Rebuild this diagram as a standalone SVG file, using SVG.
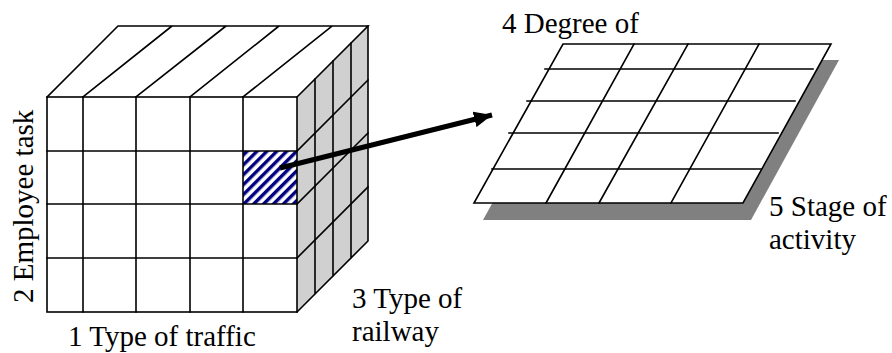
<svg xmlns="http://www.w3.org/2000/svg" width="892" height="353" viewBox="0 0 892 353">
<style>
.ln{stroke:#000;stroke-width:1.6;fill:none;stroke-linecap:square}
.lbl{font-family:"Liberation Serif","Times New Roman",Times,Tinos,"DejaVu Serif","Noto Serif",serif;font-size:29px;fill:#000}
</style>
<defs>
<pattern id="hatch" patternUnits="userSpaceOnUse" width="7" height="7" patternTransform="rotate(45)">
<rect x="0" y="0" width="7" height="7" fill="#fff"/>
<rect x="0" y="0" width="3.4" height="7" fill="#000080"/>
</pattern>
<marker id="ah" markerUnits="userSpaceOnUse" markerWidth="20" markerHeight="16" refX="18" refY="8" orient="auto">
<path d="M0,0 L18,8 L0,16 Z" fill="#000"/>
</marker>
</defs>
<rect width="892" height="353" fill="#fff"/>

<g id="cube">
<polygon points="297,97 368,26 368,241 297,312" fill="#d0d0d0"/>
<rect x="47" y="97" width="250" height="215" fill="#fff"/>
<polygon points="47,97 118,26 368,26 297,97" fill="#fff"/>
<rect x="243" y="151" width="54" height="53" fill="url(#hatch)"/>
<g class="ln">
<rect x="47" y="97" width="250" height="215"/>
<path d="M83,97V312M136,97V312M190,97V312M243,97V312"/>
<path d="M47,151H297M47,204H297M47,258H297"/>
<path d="M47,97L118,26H368L297,97M83,97L172,26M136,97L226,26M190,97L279,26M243,97L332,26"/>
<path d="M368,26V241L297,312M315,79V294M333,61V276M351,43V258"/>
<path d="M297,151L368,80M297,204L368,133M297,258L368,187"/>
</g>
</g>

<g id="plane">
<polygon points="571,60 839,60 751,220 483,220" fill="#808080"/>
<polygon points="563,44 831,44 743,203 474,203" fill="#fff"/>
<g class="ln">
<polygon points="563,44 831,44 743,203 474,203"/>
<path d="M634,44L546,203M688,44L599,203M759,44L671,203"/>
<path d="M545,69H813M527,101H795M509,133H778M492,169H761"/>
</g>
</g>

<g id="connectors">
<path d="M280,168L492,115" stroke="#000" stroke-width="5" fill="none" marker-end="url(#ah)"/>
</g>

<g id="labels">
<text class="lbl" x="502" y="33">4 Degree of</text>
<text class="lbl" x="769" y="216">5 Stage of</text>
<text class="lbl" x="769" y="249">activity</text>
<text class="lbl" x="352" y="308">3 Type of</text>
<text class="lbl" x="352" y="341">railway</text>
<text class="lbl" x="68" y="346">1 Type of traffic</text>
<text class="lbl" transform="translate(33,303) rotate(-90)">2 Employee task</text>
</g>
</svg>
